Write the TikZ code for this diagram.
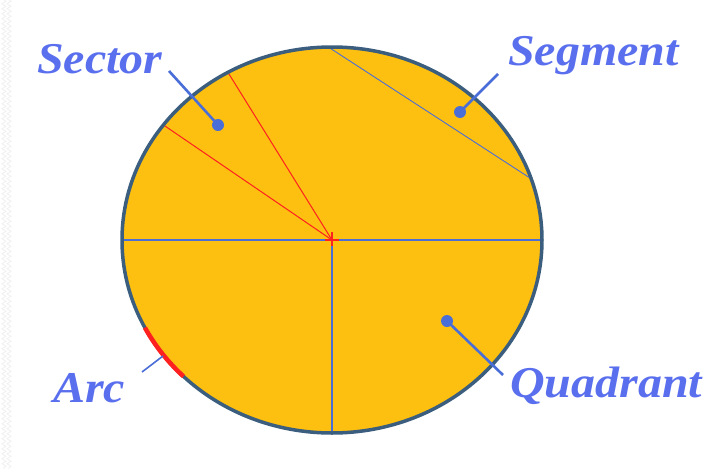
\documentclass[tikz,border=0pt]{standalone}
\usepackage{fontspec}
\setmainfont{Liberation Serif}
\newfontfamily\lblfont[FakeStretch=1.09]{Liberation Serif}
\usetikzlibrary{decorations.pathmorphing,calc}
\definecolor{fillY}{HTML}{FDBF10}
\definecolor{rimC}{HTML}{3C5E7E}
\definecolor{lineB}{HTML}{4A6ED8}
\definecolor{txtB}{HTML}{5A6FEE}
\definecolor{redC}{HTML}{FF2020}
\tikzset{
  lbl/.style={inner sep=0pt, anchor=base west, text=txtB, font=\lblfont\fontsize{44}{48}\selectfont\bfseries\itshape},
  dotn/.style={circle, fill=lineB, inner sep=0pt, minimum size=12pt},
  leader/.style={draw=lineB, line width=2.6pt},
  thinB/.style={draw=lineB, line width=1.2pt},
  thinR/.style={draw=redC, line width=1pt}
}
\begin{document}
\begin{tikzpicture}[x=1pt,y=-1pt]
\useasboundingbox (0,0) rectangle (723,469);
\fill[white] (0,0) rectangle (723,469);
% faint page border pattern
\draw[gray!12, line width=0.8pt, decorate, decoration={zigzag, segment length=5pt, amplitude=2pt}] (4,0) -- (4,469);
\draw[gray!12, line width=0.8pt, decorate, decoration={zigzag, segment length=5pt, amplitude=2pt}] (9,0) -- (9,469);
% circle
\coordinate (O) at (332,240);
\fill[fillY] (O) ellipse [x radius=210, y radius=193];
% diameter and radius
\coordinate (L) at ($(O)+(180:210 and 193)$);
\coordinate (R) at ($(O)+(0:210 and 193)$);
\coordinate (B) at ($(O)+(90:210 and 193)$);
\draw[thinB] (L) -- (R);
\draw[thinB] (O) -- (B);
% segment chord
\coordinate (C1) at ($(O)+(269:210 and 193)$);
\coordinate (C2) at ($(O)+(341.5:210 and 193)$);
\draw[thinB, line width=0.9pt] (C1) -- (C2);
% sector radii
\coordinate (S1) at ($(O)+(240.3:210 and 193)$);
\coordinate (S2) at ($(O)+(216.6:210 and 193)$);
\draw[thinR] (O) -- (S1);
\draw[thinR] (O) -- (S2);
\draw[thinR, line width=1.6pt] ($(O)+(-7,0)$) -- ($(O)+(7,0)$);
\draw[thinR, line width=1.6pt] ($(O)+(0,-8)$) -- ($(O)+(0,6)$);
% rim
\draw[rimC, line width=3.5pt] (O) ellipse [x radius=210, y radius=193];
% arc
\coordinate (A1) at ($(O)+(135:210 and 193)$);
\draw[redC, line width=4.5pt] (A1) arc [start angle=135, end angle=153, x radius=210, y radius=193];
% labels
\node[lbl] (sector) at (37,73) {Sector};
\node[lbl] (segment) at (508,65) {Segment};
\node[lbl] (arc) at (53,402) {Arc};
\node[lbl] (quadrant) at (510,397) {Quadrant};
% dots
\node[dotn] (secdot) at (218,125) {};
\node[dotn] (segdot) at (460,112) {};
\node[dotn] (quaddot) at (447,321) {};
% leaders
\coordinate (secL) at (169,71);
\coordinate (segL) at (498,74);
\coordinate (quadL) at (503,375);
\coordinate (arcL) at (142,372);
\coordinate (arcP) at (163,356);
\draw[leader] (secL) -- (secdot.center);
\draw[leader] (segL) -- (segdot.center);
\draw[leader] (quadL) -- (quaddot.center);
\draw[leader, line width=1.6pt] (arcL) -- (arcP);
\end{tikzpicture}
\end{document}
